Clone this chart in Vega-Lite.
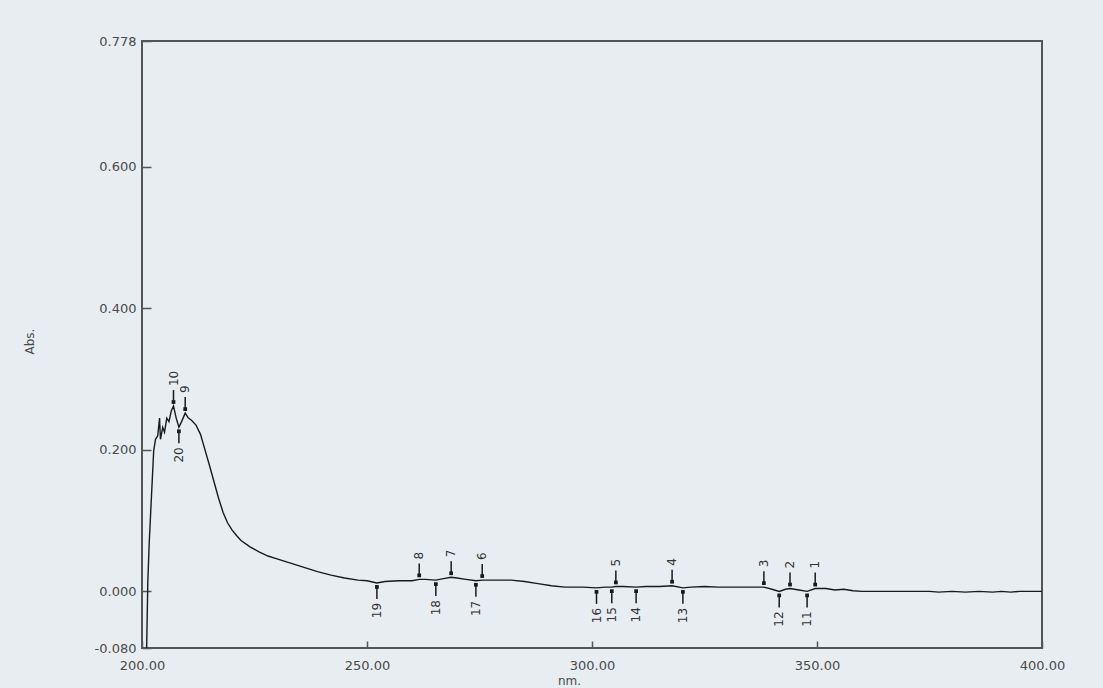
{
  "$schema": "https://vega.github.io/schema/vega-lite/v6.json",
  "width": 900,
  "height": 607,
  "autosize": {"type": "none"},
  "padding": {"left": 142, "top": 41, "right": 61, "bottom": 40},
  "background": "#e8edf2",
  "config": {
    "view": {"stroke": "#555555", "strokeWidth": 2},
    "font": "DejaVu Sans",
    "axis": {"grid": false, "domain": false, "labelFont": "DejaVu Sans", "labelFontSize": 13, "labelColor": "#4a4a4a", "titleFont": "DejaVu Sans", "titleFontSize": 12, "titleFontWeight": "normal", "titleColor": "#4a4a4a", "tickColor": "#555555", "tickWidth": 1.5, "labelFlush": false}
  },
  "datasets": {
    "spec": [
      {"nm": 201.0, "a": -0.09}, {"nm": 201.3, "a": 0.015}, {"nm": 201.6, "a": 0.068}, {"nm": 202.0, "a": 0.121},
      {"nm": 202.6, "a": 0.199}, {"nm": 203.0, "a": 0.215}, {"nm": 203.5, "a": 0.22}, {"nm": 203.9, "a": 0.245},
      {"nm": 204.1, "a": 0.215}, {"nm": 204.6, "a": 0.232}, {"nm": 205.0, "a": 0.225}, {"nm": 205.5, "a": 0.245},
      {"nm": 206.0, "a": 0.24}, {"nm": 206.5, "a": 0.255}, {"nm": 207.0, "a": 0.262}, {"nm": 207.6, "a": 0.245},
      {"nm": 208.2, "a": 0.232}, {"nm": 208.8, "a": 0.24}, {"nm": 209.6, "a": 0.252}, {"nm": 210.3, "a": 0.245},
      {"nm": 211.0, "a": 0.242}, {"nm": 212.0, "a": 0.235}, {"nm": 213.0, "a": 0.222}, {"nm": 214.0, "a": 0.2},
      {"nm": 215.0, "a": 0.178}, {"nm": 216.0, "a": 0.155}, {"nm": 217.0, "a": 0.132}, {"nm": 218.0, "a": 0.112},
      {"nm": 219.0, "a": 0.097}, {"nm": 220.0, "a": 0.087}, {"nm": 221.0, "a": 0.079}, {"nm": 222.0, "a": 0.072},
      {"nm": 224.0, "a": 0.063}, {"nm": 226.0, "a": 0.056}, {"nm": 228.0, "a": 0.05}, {"nm": 230.0, "a": 0.046},
      {"nm": 233.0, "a": 0.04}, {"nm": 236.0, "a": 0.034}, {"nm": 239.0, "a": 0.028}, {"nm": 242.0, "a": 0.023},
      {"nm": 245.0, "a": 0.019}, {"nm": 248.0, "a": 0.016}, {"nm": 250.0, "a": 0.015}, {"nm": 252.2, "a": 0.012},
      {"nm": 254.0, "a": 0.014}, {"nm": 257.0, "a": 0.015}, {"nm": 260.0, "a": 0.015}, {"nm": 261.6, "a": 0.017},
      {"nm": 263.0, "a": 0.017}, {"nm": 265.3, "a": 0.016}, {"nm": 267.0, "a": 0.018}, {"nm": 268.7, "a": 0.02},
      {"nm": 270.0, "a": 0.019}, {"nm": 272.0, "a": 0.017}, {"nm": 274.2, "a": 0.015}, {"nm": 275.6, "a": 0.016},
      {"nm": 278.0, "a": 0.016}, {"nm": 282.0, "a": 0.016}, {"nm": 285.0, "a": 0.014}, {"nm": 288.0, "a": 0.011},
      {"nm": 291.0, "a": 0.008}, {"nm": 294.0, "a": 0.006}, {"nm": 298.0, "a": 0.006}, {"nm": 301.0, "a": 0.005},
      {"nm": 303.0, "a": 0.006}, {"nm": 304.4, "a": 0.006}, {"nm": 305.3, "a": 0.007}, {"nm": 307.0, "a": 0.007},
      {"nm": 309.8, "a": 0.006}, {"nm": 312.0, "a": 0.007}, {"nm": 315.0, "a": 0.007}, {"nm": 317.8, "a": 0.008},
      {"nm": 320.2, "a": 0.005}, {"nm": 322.0, "a": 0.006}, {"nm": 325.0, "a": 0.007}, {"nm": 328.0, "a": 0.006},
      {"nm": 332.0, "a": 0.006}, {"nm": 335.0, "a": 0.006}, {"nm": 338.2, "a": 0.006}, {"nm": 340.0, "a": 0.003},
      {"nm": 341.6, "a": 0.0}, {"nm": 343.0, "a": 0.003}, {"nm": 344.0, "a": 0.004}, {"nm": 346.0, "a": 0.002},
      {"nm": 347.8, "a": 0.0}, {"nm": 349.6, "a": 0.004}, {"nm": 352.0, "a": 0.004}, {"nm": 354.0, "a": 0.002},
      {"nm": 356.0, "a": 0.003}, {"nm": 358.0, "a": 0.001}, {"nm": 360.0, "a": 0.0}, {"nm": 370.0, "a": 0.0},
      {"nm": 375.0, "a": 0.0}, {"nm": 377.0, "a": -0.001}, {"nm": 380.0, "a": 0.0}, {"nm": 383.0, "a": -0.001},
      {"nm": 386.0, "a": 0.0}, {"nm": 389.0, "a": -0.001}, {"nm": 391.0, "a": 0.0}, {"nm": 393.0, "a": -0.001},
      {"nm": 395.0, "a": 0.0}, {"nm": 400.0, "a": 0.0}
    ],
    "marks": [
      {"label": "1", "nm": 349.6, "a": 0.004, "kind": "peak"},
      {"label": "2", "nm": 344.0, "a": 0.004, "kind": "peak"},
      {"label": "3", "nm": 338.2, "a": 0.006, "kind": "peak"},
      {"label": "4", "nm": 317.8, "a": 0.008, "kind": "peak"},
      {"label": "5", "nm": 305.3, "a": 0.007, "kind": "peak"},
      {"label": "6", "nm": 275.6, "a": 0.016, "kind": "peak"},
      {"label": "7", "nm": 268.7, "a": 0.02, "kind": "peak"},
      {"label": "8", "nm": 261.6, "a": 0.017, "kind": "peak"},
      {"label": "9", "nm": 209.6, "a": 0.252, "kind": "peak"},
      {"label": "10", "nm": 207.0, "a": 0.262, "kind": "peak"},
      {"label": "11", "nm": 347.8, "a": 0.0, "kind": "valley"},
      {"label": "12", "nm": 341.6, "a": 0.0, "kind": "valley"},
      {"label": "13", "nm": 320.2, "a": 0.005, "kind": "valley"},
      {"label": "14", "nm": 309.8, "a": 0.006, "kind": "valley"},
      {"label": "15", "nm": 304.4, "a": 0.006, "kind": "valley"},
      {"label": "16", "nm": 301.0, "a": 0.005, "kind": "valley"},
      {"label": "17", "nm": 274.2, "a": 0.015, "kind": "valley"},
      {"label": "18", "nm": 265.3, "a": 0.016, "kind": "valley"},
      {"label": "19", "nm": 252.2, "a": 0.012, "kind": "valley"},
      {"label": "20", "nm": 208.2, "a": 0.232, "kind": "valley"}
    ]
  },
  "encoding": {
    "x": {"field": "nm", "type": "quantitative", "scale": {"domain": [200, 400], "nice": false, "zero": false},
      "axis": {"title": "nm.", "values": [200, 250, 300, 350, 400], "format": ".2f", "tickSize": -7, "labelPadding": 18, "titleX": 427, "titleY": 36, "titleBaseline": "alphabetic", "titleAlign": "center"}},
    "y": {"field": "a", "type": "quantitative", "scale": {"domain": [-0.08, 0.778], "nice": false, "zero": false},
      "axis": {"title": "Abs.", "values": [-0.08, 0, 0.2, 0.4, 0.6, 0.778], "labelExpr": "replace(format(datum.value, '.3f'), '\u2212', '-')", "tickSize": -9, "labelPadding": 15, "titleX": -113, "titleY": 300, "titleAngle": 270, "titleAlign": "center", "titleBaseline": "middle"}}
  },
  "layer": [
    {"data": {"name": "spec"}, "mark": {"type": "line", "color": "#1a1a1a", "strokeWidth": 1.4, "clip": true}},
    {"data": {"name": "marks"}, "transform": [{"filter": "datum.kind == 'peak'"}],
      "mark": {"type": "rule", "color": "#1a1a1a", "strokeWidth": 1.5, "yOffset": -3, "y2Offset": -16},
      "encoding": {"y2": {"field": "a"}}},
    {"data": {"name": "marks"}, "transform": [{"filter": "datum.kind == 'valley'"}],
      "mark": {"type": "rule", "color": "#1a1a1a", "strokeWidth": 1.5, "yOffset": 3, "y2Offset": 16},
      "encoding": {"y2": {"field": "a"}}},
    {"data": {"name": "marks"}, "transform": [{"filter": "datum.kind == 'peak'"}],
      "mark": {"type": "point", "shape": "square", "filled": true, "color": "#1a1a1a", "size": 14, "opacity": 1, "yOffset": -4}},
    {"data": {"name": "marks"}, "transform": [{"filter": "datum.kind == 'valley'"}],
      "mark": {"type": "point", "shape": "square", "filled": true, "color": "#1a1a1a", "size": 14, "opacity": 1, "yOffset": 4}},
    {"data": {"name": "marks"}, "transform": [{"filter": "datum.kind == 'peak'"}],
      "mark": {"type": "text", "angle": 270, "align": "left", "baseline": "middle", "fontSize": 12, "color": "#333333", "yOffset": -20},
      "encoding": {"text": {"field": "label"}}},
    {"data": {"name": "marks"}, "transform": [{"filter": "datum.kind == 'valley'"}],
      "mark": {"type": "text", "angle": 270, "align": "right", "baseline": "middle", "fontSize": 12, "color": "#333333", "yOffset": 20},
      "encoding": {"text": {"field": "label"}}}
  ]
}
